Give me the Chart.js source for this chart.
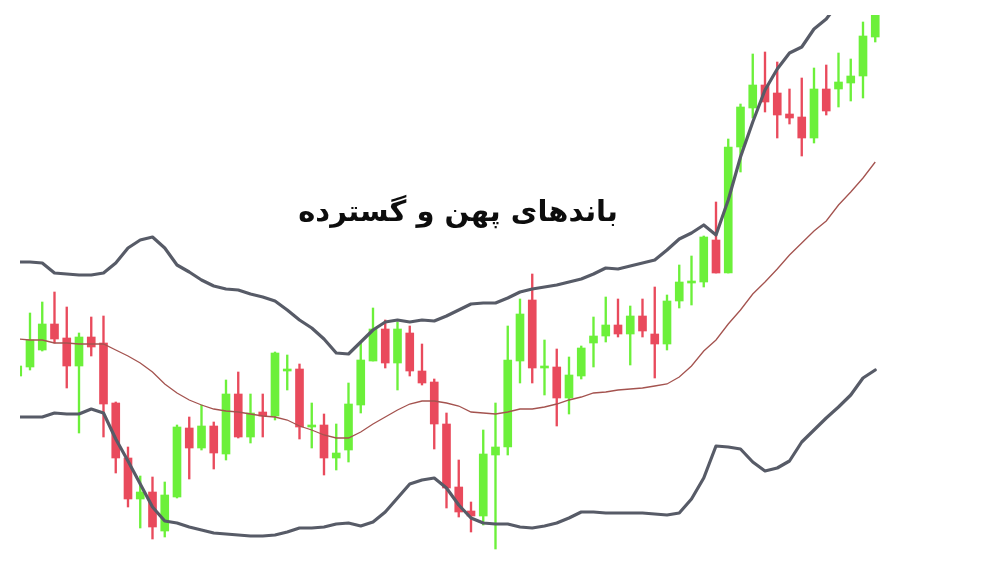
<!DOCTYPE html>
<html>
<head>
<meta charset="utf-8">
<script src="https://cdn.jsdelivr.net/npm/chart.js@4"></script>
<style>
  html, body { margin: 0; padding: 0; background: #ffffff; }
  #wrap { position: relative; width: 1000px; height: 562px; overflow: hidden; background: #fff; }
  #c { position: absolute; left: 0; top: 0; }
  #title { position: absolute; left: 458px; top: 211px; transform: translate(-50%, -50%);
    font-family: "DejaVu Sans", "Noto Sans", sans-serif; font-weight: bold; font-size: 29px;
    color: #0d0d0d; white-space: nowrap; direction: rtl; }
</style>
</head>
<body>
<div id="wrap">
  <canvas id="c" width="1000" height="562"></canvas>
  <div id="title" dir="rtl">باندهای پهن و گسترده</div>
</div>
<script>
// ---- data (price units) ----
const openP  = [186,195,212,238,224,196,225,219,159,104, 63,70,31,65,134,114,136,108,168,125, 150,146,191,193,135,137,104,112,157,201, 233,199,229,191,180,138,75,51,46,107, 115,201,262,194,195,164,186,219,226,237, 228,246,228,218,261,279,280,322,289,415, 454,477,469,448,445,424,473,473,479,486, 525];
const closeP = [196,222,238,223,196,225,215,158,104,63, 70,35,67,135,114,136,109,168,125,149, 146,209,193,135,137,104,109,158,202,233, 199,233,191,179,138,74,50,46,108,115, 202,248,194,195,164,187,214,226,237,228, 246,231,218,261,280,281,325,289,415,455, 477,460,447,444,424,473,451,480,486,526, 556];
const highP  = [196,249,260,270,255,229,245,246,160,115, 86,85,80,137,145,157,140,182,190,168, 168,210,207,198,159,148,138,179,220,254, 242,240,236,218,183,149,102,60,132,159, 236,263,288,222,213,205,216,245,265,263, 256,263,275,267,297,306,326,360,423,458, 508,510,500,473,484,494,497,509,503,540, 565];
const lowP   = [186,192,211,219,174,129,206,125,89,55, 34,23,25,64,83,112,93,102,124,119, 125,142,172,123,114,87,92,100,149,201, 194,172,186,177,113,54,45,30,37,13, 107,179,179,167,136,148,183,195,220,225, 197,225,184,212,254,257,275,289,289,390, 444,450,424,438,406,419,447,455,461,464, 520];
const upperBand = [300,300,299,289,288,287,287,289,299,314, 322,325,314,297,290,282,276,273,272,268, 265,261,252,242,234,223,209,208,220,232, 240,242,240,242,241,246,252,258,259,259, 264,270,273,275,277,280,283,288,294,293, 296,299,302,312,323,329,337,327,362,405, 440,472,493,509,515,533,543,559,573,584, 608];
const midBand   = [223,222,222,219,219,218,218,218,212,206, 199,190,178,169,162,157,153,151,150,148, 146,145,142,136,132,127,124,124,130,138, 145,152,158,161,161,159,156,150,149,148, 150,153,153,155,158,162,165,169,170,172, 173,174,176,178,185,196,211,222,238,252, 268,280,293,307,319,331,341,357,370,384, 400];
const lowerBand = [145,145,145,149,148,148,153,149,123,101, 78,55,41,39,35,32,29,28,27,26, 26,27,30,34,34,35,38,39,36,40, 50,64,78,82,84,74,57,44,39,38, 38,35,34,36,39,44,50,50,49,49, 49,49,48,47,49,63,84,116,115,113, 100,91,94,101,120,132,144,155,167,184, 192];
const titleText = "باندهای پهن و گسترده";

const GREEN = '#6cf03a';
const RED = '#e94a5c';
const up = openP.map((o, i) => closeP[i] >= o);
const colors = up.map(u => u ? GREEN : RED);

const wickData = highP.map((h, i) => ({ x: i, y: [lowP[i], h] }));
const bodyData = openP.map((o, i) => ({ x: i, y: [Math.min(o, closeP[i]), Math.max(o, closeP[i])] }));
const toPts = arr => arr.map((v, i) => ({ x: i, y: v }));

document.getElementById('title').textContent = titleText;

new Chart(document.getElementById('c'), {
  type: 'bar',
  data: {
    datasets: [
      { type: 'line', data: toPts(upperBand), borderColor: '#575b67', borderWidth: 3.2, pointRadius: 0, tension: 0, order: 0, borderJoinStyle: 'round', borderCapStyle: 'round' },
      { type: 'line', data: toPts(lowerBand), borderColor: '#575b67', borderWidth: 3.2, pointRadius: 0, tension: 0, order: 0, borderJoinStyle: 'round', borderCapStyle: 'round' },
      { type: 'line', data: toPts(midBand), borderColor: '#a4534f', borderWidth: 1.3, pointRadius: 0, tension: 0, order: 0 },
      { type: 'bar', data: bodyData, backgroundColor: colors, barThickness: 8, grouped: false, minBarLength: 2, borderWidth: 0, order: 1 },
      { type: 'bar', data: wickData, backgroundColor: colors, barThickness: 1.7, grouped: false, borderWidth: 0, order: 2 }
    ]
  },
  options: {
    responsive: false,
    animation: false,
    devicePixelRatio: 1,
    layout: { padding: { left: 20, top: 15, right: 120, bottom: 0 } },
    plugins: { legend: { display: false }, tooltip: { enabled: false }, title: { display: false } },
    scales: {
      x: { type: 'linear', min: 0.184, max: 70.388, offset: false, display: false },
      y: { min: 0, max: 547, display: false }
    }
  }
});
</script>
</body>
</html>
